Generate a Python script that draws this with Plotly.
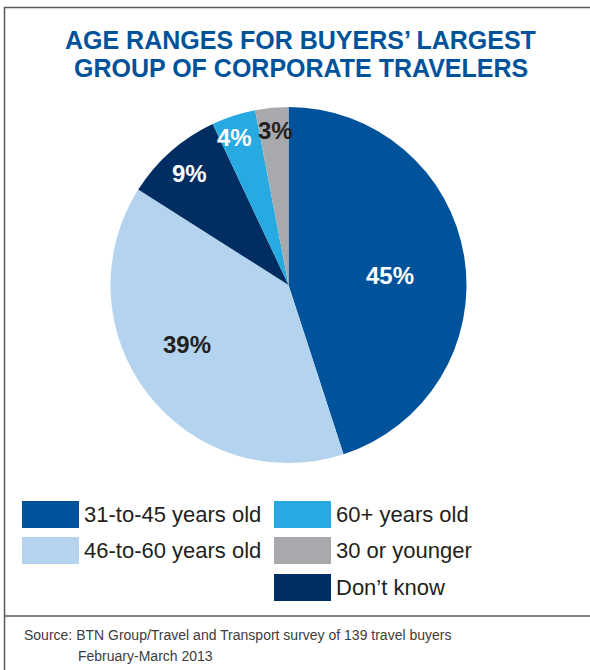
import math
import plotly.graph_objects as go

# ---- data ----
categories = ["31-to-45 years old", "46-to-60 years old", "Don\u2019t know", "60+ years old", "30 or younger"]
values = [45, 39, 9, 4, 3]
slice_colors = ["#00539b", "#b3d3ee", "#002d62", "#27a9e1", "#a7a9ac"]
label_colors = ["#ffffff", "#231f20", "#ffffff", "#ffffff", "#231f20"]
legend_order = ["31-to-45 years old", "46-to-60 years old", "60+ years old", "30 or younger", "Don\u2019t know"]
title_lines = ["AGE RANGES FOR BUYERS\u2019 LARGEST", "GROUP OF CORPORATE TRAVELERS"]
source_lines = ["Source: BTN Group/Travel and Transport survey of 139 travel buyers", "February-March 2013"]

# label placement style (fraction of radius, fraction along slice angle)
label_radius_frac = [0.572, 0.66, 0.838, 0.879, 0.874]
label_angle_frac = [0.524, 0.554, 0.50, 0.36, 0.54]

W, H = 590, 670
FONT = "Liberation Sans, Arial, Helvetica, sans-serif"

def px_x(x):
    return x / W

def px_y(y):
    return 1 - y / H

# pie domain in pixels
PIE_L, PIE_R, PIE_T, PIE_B = 110, 467, 107, 463

fig = go.Figure()
fig.add_trace(go.Pie(
    labels=categories,
    values=values,
    sort=False,
    direction="clockwise",
    rotation=0,
    marker=dict(colors=slice_colors, line=dict(width=0)),
    textinfo="none",
    hoverinfo="label+percent",
    showlegend=False,
    domain=dict(x=[px_x(PIE_L), px_x(PIE_R)], y=[px_y(PIE_B), px_y(PIE_T)]),
))

shapes = []
annotations = []

# slice labels, placed from the cumulative slice angles
cx = (PIE_L + PIE_R) / 2
cy = (PIE_T + PIE_B) / 2
rad = min(PIE_R - PIE_L, PIE_B - PIE_T) / 2
total = sum(values)
start = 0.0
for v, col, rf, af in zip(values, label_colors, label_radius_frac, label_angle_frac):
    span = 360.0 * v / total
    ang = math.radians(start + span * af)
    lx = cx + rf * rad * math.sin(ang)
    ly = cy - rf * rad * math.cos(ang)
    annotations.append(dict(text=f"<b>{v}%</b>", xref="paper", yref="paper",
                            x=px_x(lx), y=px_y(ly), xanchor="center", yanchor="middle",
                            showarrow=False,
                            font=dict(family=FONT, size=24, color=col)))
    start += span

# outer frame and separator
shapes.append(dict(type="rect", xref="paper", yref="paper",
                   x0=px_x(4.5), x1=1.02, y0=-0.02, y1=px_y(7.5),
                   line=dict(color="#58595b", width=1.5), fillcolor="rgba(0,0,0,0)"))
shapes.append(dict(type="line", xref="paper", yref="paper",
                   x0=px_x(4.5), x1=1.02, y0=px_y(616), y1=px_y(616),
                   line=dict(color="#58595b", width=1.5)))

# title (two lines, tight leading)
for line, yc in zip(title_lines, [40, 68.5]):
    annotations.append(dict(text=f"<b>{line}</b>", xref="paper", yref="paper",
                            x=px_x(301), y=px_y(yc), xanchor="center", yanchor="middle",
                            showarrow=False, align="center", borderpad=0,
                            font=dict(family=FONT, size=25, color="#00539b")))

# custom legend (large swatches, two columns)
col_x = [22, 274]
row_y = [501, 537, 574]
slots = [(0, 0), (0, 1), (1, 0), (1, 1), (1, 2)]
for name, (c, r) in zip(legend_order, slots):
    color = slice_colors[categories.index(name)]
    x0 = col_x[c]
    y0 = row_y[r]
    shapes.append(dict(type="rect", xref="paper", yref="paper",
                       x0=px_x(x0), x1=px_x(x0 + 57), y0=px_y(y0 + 27), y1=px_y(y0),
                       line=dict(width=0), fillcolor=color))
    annotations.append(dict(text=name, xref="paper", yref="paper",
                            x=px_x(x0 + 60), y=px_y(y0 + 13.5), xanchor="left", yanchor="middle",
                            showarrow=False,
                            font=dict(family=FONT, size=22, color="#231f20")))

# source
annotations.append(dict(text=source_lines[0], xref="paper", yref="paper",
                        x=px_x(22), y=px_y(635), xanchor="left", yanchor="middle",
                        showarrow=False, font=dict(family=FONT, size=14, color="#3c3c3c")))
annotations.append(dict(text=source_lines[1], xref="paper", yref="paper",
                        x=px_x(76), y=px_y(656), xanchor="left", yanchor="middle",
                        showarrow=False, font=dict(family=FONT, size=14, color="#3c3c3c")))

fig.update_layout(
    width=W, height=H,
    margin=dict(l=0, r=0, t=0, b=0),
    paper_bgcolor="white", plot_bgcolor="white",
    shapes=shapes, annotations=annotations,
    showlegend=False,
)

fig.write_html("out.html")
